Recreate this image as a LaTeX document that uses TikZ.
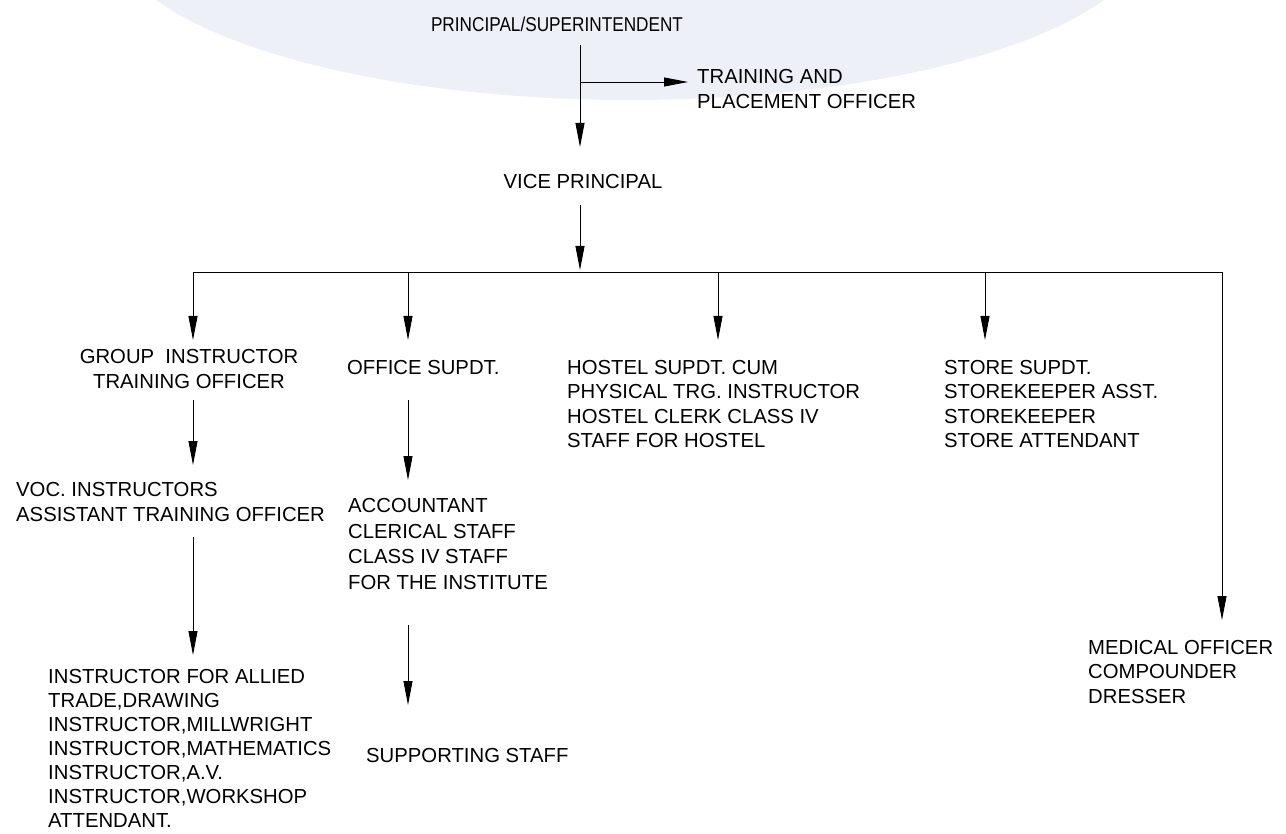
\documentclass[tikz,border=0pt]{standalone}
\usepackage{fontspec}
\setmainfont{Liberation Sans}
\usetikzlibrary{arrows.meta}
\definecolor{wm}{RGB}{237,241,247}
\begin{document}
\begin{tikzpicture}[x=1pt,y=-1pt,
  lbl/.style={inner sep=0pt, font=\fontsize{20.3}{24.5}\selectfont, align=left, anchor=west},
  arr/.style={-{Triangle[length=24pt,width=9pt]}, line width=0.9pt},
  ln/.style={line width=0.9pt}]
\useasboundingbox (0,0) rectangle (1286,834);
\fill[wm] (630,-70) ellipse [x radius=520, y radius=170];

% nodes
\node[lbl, anchor=center, font=\fontsize{20}{22}\selectfont, xscale=0.86, transform shape] (ps) at (557,24) {PRINCIPAL/SUPERINTENDENT};
\node[lbl] (tpo) at (697,89) {TRAINING AND\\PLACEMENT OFFICER};
\node[lbl, anchor=center] (vp) at (583,182) {VICE PRINCIPAL};
\node[lbl, anchor=center, align=center] (gio) at (189,369) {GROUP\ \ INSTRUCTOR\\TRAINING OFFICER};
\node[lbl] (os) at (347,368) {OFFICE SUPDT.};
\node[lbl] (hs) at (567,404) {HOSTEL SUPDT. CUM\\PHYSICAL TRG. INSTRUCTOR\\HOSTEL CLERK CLASS IV\\STAFF FOR HOSTEL};
\node[lbl] (ss) at (944,404) {STORE SUPDT.\\STOREKEEPER ASST.\\STOREKEEPER\\STORE ATTENDANT};
\node[lbl] (voc) at (16,502) {VOC. INSTRUCTORS\\ASSISTANT TRAINING OFFICER};
\node[lbl, font=\fontsize{20.3}{24}\selectfont] (ins) at (48,748) {INSTRUCTOR FOR ALLIED\\TRADE,DRAWING\\INSTRUCTOR,MILLWRIGHT\\INSTRUCTOR,MATHEMATICS\\INSTRUCTOR,A.V.\\INSTRUCTOR,WORKSHOP\\ATTENDANT.};
\node[lbl, font=\fontsize{20.3}{25.5}\selectfont] (acc) at (348,544) {ACCOUNTANT\\CLERICAL STAFF\\CLASS IV STAFF\\FOR THE INSTITUTE};
\node[lbl] (sup) at (366,756) {SUPPORTING STAFF};
\node[lbl] (med) at (1088,672) {MEDICAL OFFICER\\COMPOUNDER\\DRESSER};

% junction coordinates
\coordinate (p0) at (580,45);
\coordinate (pj) at (580,82);
\coordinate (p1) at (580,147);
\coordinate (tj) at (688,82);
\coordinate (v0) at (580,205);
\coordinate (v1) at (580,270);
\coordinate (bL) at (193,272);
\coordinate (bR) at (1222,272);
\coordinate (b2) at (408,272);
\coordinate (b3) at (718,272);
\coordinate (b4) at (985,272);
\coordinate (g0) at (193,400);
\coordinate (g1) at (193,465);
\coordinate (c0) at (193,537);
\coordinate (c1) at (193,655);
\coordinate (o0) at (408,400);
\coordinate (o1) at (408,480);
\coordinate (a0) at (408,625);
\coordinate (a1) at (408,705);

% connectors
\draw[arr] (p0) -- (p1);
\draw[arr] (pj) -- (tj);
\draw[arr] (v0) -- (v1);
\draw[ln] (bL) -- (bR);
\draw[arr] (bL) -- (bL |- 0,340);
\draw[arr] (b2) -- (b2 |- 0,340);
\draw[arr] (b3) -- (b3 |- 0,340);
\draw[arr] (b4) -- (b4 |- 0,340);
\draw[arr] (bR) -- (bR |- 0,620);
\draw[arr] (g0) -- (g1);
\draw[arr] (c0) -- (c1);
\draw[arr] (o0) -- (o1);
\draw[arr] (a0) -- (a1);
\end{tikzpicture}
\end{document}
